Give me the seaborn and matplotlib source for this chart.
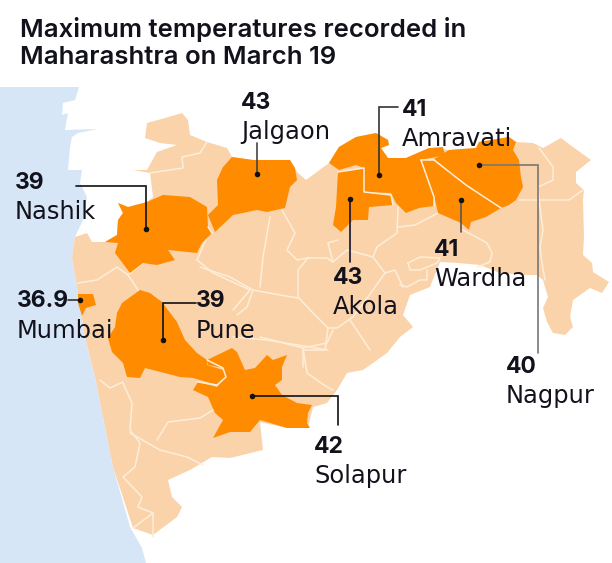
import matplotlib
matplotlib.use("Agg")
import matplotlib.pyplot as plt
import seaborn as sns
import pandas as pd

# ---- data ----
districts = ["Nashik", "Jalgaon", "Amravati", "Akola", "Wardha", "Nagpur", "Mumbai", "Pune", "Solapur"]
temps = ["39", "43", "41", "43", "41", "40", "36.9", "39", "42"]
label_x = [15, 241, 402, 333, 434, 506, 17, 196, 314]
temp_y = [183, 103, 110, 278, 250, 367, 301, 301, 447]
name_y = [212, 132, 139, 307, 279, 396, 331, 331, 476]
dot_x = [146, 257, 379, 350, 461, 479, 80, 163, 252]
dot_y = [229, 174, 175, 199, 200, 165, 300, 340, 396]

title_lines = ["Maximum temperatures recorded in", "Maharashtra on March 19"]

sea = [(0,87),(79,87),(75,100),(63,103),(62,115),(68,113),(65,130),(98,129),(78,133),(72,137),(70,147),(68,170),
       (82,170),(80,183),(87,197),(83,220),(75,237),(72,257),(78,293),(85,337),(95,377),(113,467),(130,527),
       (142,548),(146,563),(0,563)]

land = [(147,123),(165,118),(182,113),(188,120),(190,135),(207,142),(227,148),(232,157),(253,160),(290,160),
        (297,172),(306,180),(329,163),(339,147),(356,137),(376,133),(388,140),(389,145),(381,148),(388,158),
        (406,158),(429,148),(449,150),(476,148),(479,142),(509,137),(516,142),(533,143),(543,148),(561,138),
        (573,147),(591,160),(576,172),(576,183),(584,190),(583,200),(584,237),(583,255),(592,263),(593,272),
        (609,282),(602,293),(590,288),(573,300),(570,317),(573,327),(565,335),(553,333),(547,322),(543,308),
        (548,297),(543,280),(537,275),(527,275),(500,273),(480,265),(458,263),(440,262),(430,287),(410,295),
        (403,315),(413,327),(400,337),(387,353),(373,363),(363,370),(347,373),(337,390),(327,403),(313,407),
        (308,427),(287,428),(260,422),(263,450),(230,458),(212,457),(190,470),(168,480),(172,497),(182,507),
        (177,517),(153,535),(133,528),(113,467),(95,377),(85,337),(78,293),(72,257),(75,237),(87,233),(92,242),
        (105,242),(117,235),(118,220),(123,213),(118,203),(128,207),(147,202),(153,197),(150,173),(133,170),
        (147,170),(157,152),(177,145),(160,143),(145,138)]

nashik = [(118,203),(128,207),(147,202),(163,195),(190,197),(207,207),(208,227),(212,233),(202,243),(197,253),
          (168,250),(175,260),(157,265),(143,263),(130,273),(115,253),(118,243),(105,242),(117,235),(118,220),(123,213)]
jalgaon = [(232,157),(253,160),(290,160),(295,168),(297,180),(290,187),(285,208),(267,212),(257,210),(233,215),
           (215,232),(208,215),(218,205),(217,180),(223,167)]
amravati = [(329,163),(339,147),(356,137),(376,133),(388,140),(389,145),(381,148),(388,158),(406,158),(429,148),
            (443,147),(445,155),(421,160),(428,180),(434,197),(434,206),(419,208),(406,213),(396,203),(391,193),
            (364,192),(364,168),(356,165),(339,170)]
akola = [(338,172),(364,168),(364,192),(391,195),(393,205),(369,207),(368,220),(353,220),(341,232),(333,225),(336,207)]
wardha = [(421,160),(434,160),(466,185),(501,208),(486,217),(471,222),(469,230),(461,223),(438,213),(434,195),(426,180)]
nagpur = [(434,159),(449,150),(476,148),(479,142),(509,137),(516,142),(513,150),(519,160),(521,177),(523,187),
          (516,200),(509,205),(501,208),(466,185)]
pune = [(122,303),(140,290),(150,293),(162,302),(177,322),(185,340),(197,353),(207,360),(207,365),(223,370),
        (226,377),(217,385),(193,378),(180,377),(145,368),(140,378),(127,377),(123,363),(112,352),(108,338),(115,327),(117,313)]
solapur = [(207,360),(232,348),(237,352),(245,370),(255,368),(267,355),(273,360),(287,355),(282,367),(282,380),
           (275,385),(282,395),(297,403),(312,405),(308,413),(307,423),(310,428),(287,428),(260,420),(250,432),
           (230,432),(213,438),(223,420),(215,413),(208,397),(193,390),(198,382),(217,387),(226,377),(223,368),(208,365)]
mumbai = [(78,294),(93,294),(96,305),(86,308),(82,316),(78,303)]

borders = [
    [(133,528),(153,513),(153,537)],
    [(123,383),(132,403),(130,430),(140,443),(135,467),(123,477),(142,497),(138,507),(153,513)],
    [(130,433),(160,450),(187,457),(203,465)],
    [(157,440),(168,422),(200,418),(213,410)],
    [(100,380),(110,388),(123,382)],
    [(260,337),(303,348),(327,343),(333,330)],
    [(303,348),(307,373),(327,387),(333,390)],
    [(78,283),(97,280),(117,267),(128,275),(140,293)],
    [(128,275),(143,263)],
    [(197,260),(213,273),(250,290),(233,310)],
    [(207,237),(197,260)],
    [(207,142),(200,153),(182,157),(183,168),(150,173)],
    [(270,217),(263,257),(260,287)],
    [(282,210),(295,233),(287,250),(297,260),(308,258),(327,258),(333,262),(347,250),(373,257),(385,273),
     (373,290),(353,317),(337,328),(328,328),(313,313),(298,297),(298,270),(308,258)],
    [(200,267),(230,277),(253,290),(280,295),(298,298)],
    [(253,290),(247,307),(237,315)],
    [(328,328),(325,350),(303,350),(303,367)],
    [(350,320),(370,350)],
    [(233,337),(267,340),(310,347),(328,350)],
    [(328,243),(338,240)],
    [(328,243),(333,262)],
    [(377,247),(397,233),(398,207)],
    [(377,247),(373,257)],
    [(385,273),(395,270),(403,287)],
    [(463,230),(487,243),(492,253),(490,262),(477,267)],
    [(408,263),(420,257),(440,258),(437,263),(420,270),(410,270),(408,263)],
    [(400,285),(407,287),(420,280),(427,280),(427,270)],
    [(539,148),(553,167),(553,180),(538,187),(539,200),(519,200)],
    [(539,200),(569,200),(583,190)],
    [(539,200),(543,230),(540,247),(542,263),(545,280)],
    [(398,227),(415,225),(438,213)],
]

border_inner = [
    [(421,160),(434,160)],
    [(434,160),(466,185),(501,208)],
    [(421,160),(428,180),(434,197),(434,206)],
    [(338,172),(364,168),(364,192),(391,195),(393,205)],
    [(207,360),(223,368),(226,377),(217,385),(198,382)],
    [(208,227),(212,233)],
]

leaders = [
    ([76,146,146], [186,186,229], "#111111"),
    ([257,257], [143,174], "#444444"),
    ([398,379,379], [107,107,175], "#333333"),
    ([350,350], [199,262], "#111133"),
    ([461,461], [200,232], "#555555"),
    ([479,538,538], [165,165,353], "#777777"),
    ([68,80], [300,300], "#333333"),
    ([196,163,163], [303,303,340], "#111111"),
    ([252,338,338], [396,396,425], "#111111"),
]

# ---- colours ----
SEA, LAND, HOT, INK = "#d6e6f6", "#fbd3aa", "#ff8b00", "#12121c"

sns.set_theme(style="white")
plt.rcParams["font.family"] = ["DejaVu Sans"]

fig, ax = plt.subplots(figsize=(6.12, 5.63), dpi=100)
ax.set_position([0, 0, 1, 1])

def fill(poly, color, z):
    xs, ys = zip(*poly)
    ax.fill(xs, ys, color=color, lw=0, zorder=z)

fill(sea, SEA, 1)
fill(land, LAND, 2)
for b in borders:
    xs, ys = zip(*b)
    ax.plot(xs, ys, color="#fdeeda", lw=1.1, zorder=3, solid_joinstyle="round")
for poly in [nashik, jalgaon, amravati, akola, wardha, nagpur, pune, solapur, mumbai]:
    fill(poly, HOT, 4)
for b in border_inner:
    xs, ys = zip(*b)
    ax.plot(xs, ys, color="#fdeeda", lw=1.1, zorder=5)

for xs, ys, c in leaders:
    ax.plot(xs, ys, color=c, lw=1.2, zorder=6, solid_joinstyle="miter")

dots = pd.DataFrame({"x": dot_x, "y": dot_y})
sns.scatterplot(data=dots, x="x", y="y", color="#111111", s=16, linewidth=0, zorder=7, ax=ax)

for x, ty, ny, t, d in zip(label_x, temp_y, name_y, temps, districts):
    ax.text(x, ty, t, fontsize=16.5, fontfamily="Inter", fontweight=700, color=INK, va="center", ha="left", zorder=8)
    ax.text(x, ny, d, fontsize=17.4, color=INK, va="center", ha="left", zorder=8)

ax.text(20, 29, title_lines[0], fontsize=18.5, fontfamily="Inter", fontweight=600, color=INK, va="center", ha="left")
ax.text(20, 58, title_lines[1], fontsize=18.5, fontfamily="Inter", fontweight=600, color=INK, va="center", ha="left")

ax.set_xlim(0, 612)
ax.set_ylim(563, 0)
ax.set_xlabel("")
ax.set_ylabel("")
ax.axis("off")
fig.savefig("out.png", dpi=100)
